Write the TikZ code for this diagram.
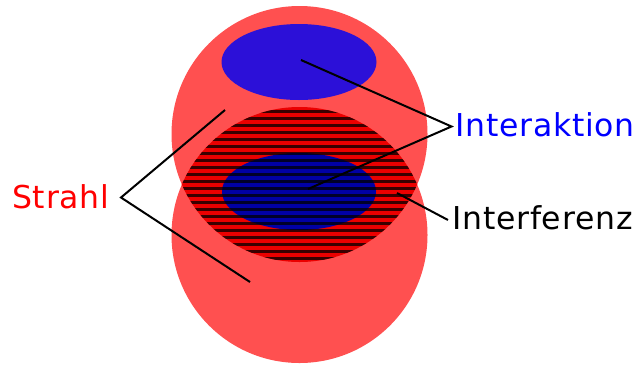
\documentclass[tikz,border=0pt]{standalone}
\usepackage{fontspec}
\setmainfont{DejaVu Sans}[LetterSpace=2.5]
\definecolor{beam}{RGB}{255,80,80}
\definecolor{lens}{RGB}{235,0,0}
\definecolor{topblue}{RGB}{44,16,216}
\definecolor{lowblue}{RGB}{0,0,165}
\begin{document}
\begin{tikzpicture}[x=1pt,y=-1pt,
  conn/.style={draw=black,line width=2pt},
  lbl/.style={inner sep=0pt,font=\fontsize{31.5}{36}\selectfont,anchor=base west}]
\useasboundingbox (0,0) rectangle (639,365);
% beams
\fill[beam] (299.5,134) circle (128pt);
\fill[beam] (299.5,235) circle (128pt);
% overlap lens
\begin{scope}
  \clip (299.5,134) circle (128pt);
  \fill[lens] (299.5,235) circle (128pt);
  \fill[lowblue] (299,191.5) ellipse [x radius=77pt,y radius=38.5pt];
  \clip (299.5,235) circle (128pt);
  \foreach \k in {0,...,21}
    \fill[black,opacity=0.75] (160,{109.5+7*\k}) rectangle (440,{112.5+7*\k});
\end{scope}
% top interaction
\fill[topblue] (299,62) ellipse [x radius=77.5pt,y radius=38pt];
% anchor coordinates
\coordinate (s) at (121,197.5);
\coordinate (s1) at (225,110);
\coordinate (s2) at (250,282);
\coordinate (i) at (451.5,126.5);
\coordinate (i1) at (301,60);
\coordinate (i2) at (308,189);
\coordinate (f1) at (397,193);
\coordinate (f) at (448,220);
% labels
\node[lbl,text=red] (strahl) at (12,208) {Strahl};
\node[lbl,text=blue] (inter) at (455,136.5) {Interaktion};
\node[lbl,text=black] (interf) at (452,229) {Interferenz};
% connectors
\draw[conn] (s1) -- (s) -- (s2);
\draw[conn] (i1) -- (i) -- (i2);
\draw[conn] (f1) -- (f);
\end{tikzpicture}
\end{document}
